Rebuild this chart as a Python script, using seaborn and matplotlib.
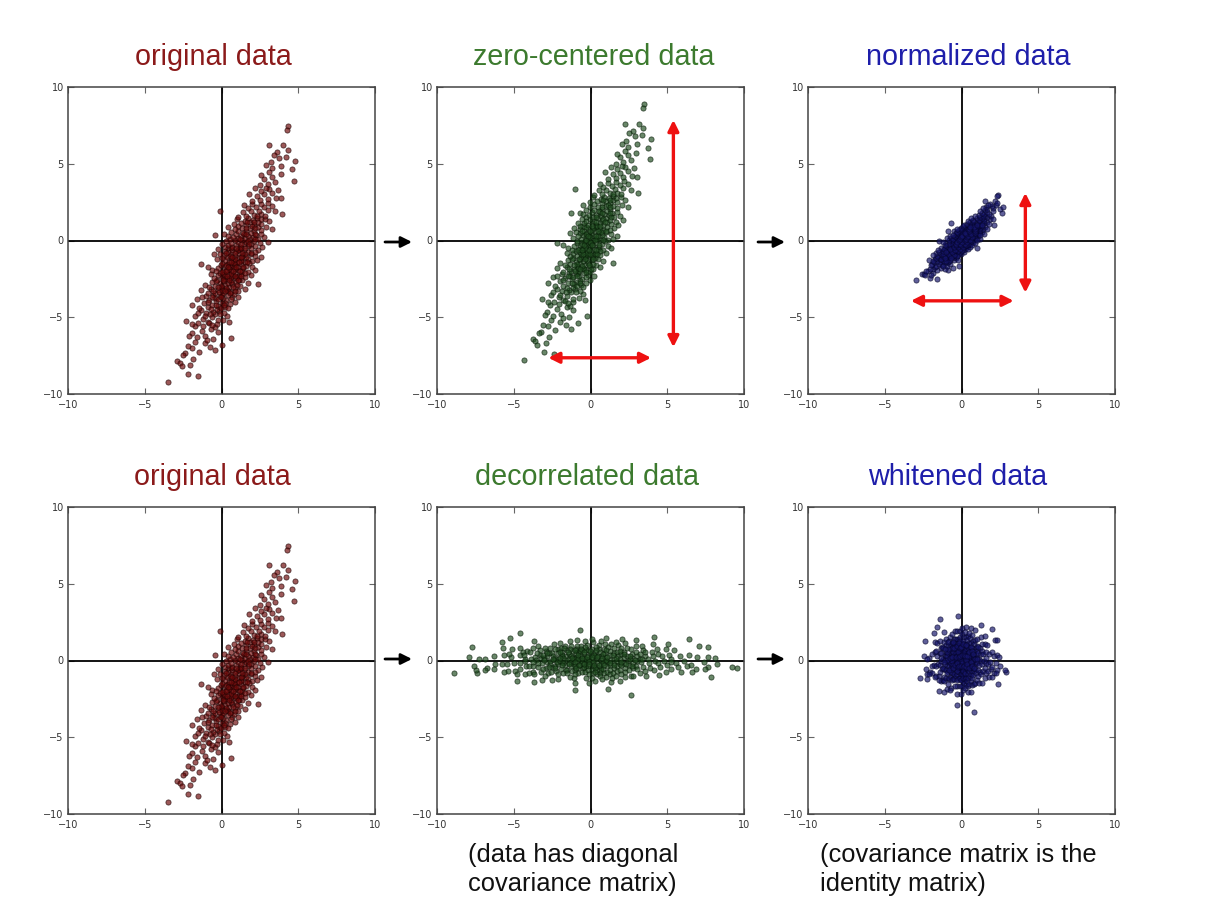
import numpy as np
import pandas as pd
import matplotlib
matplotlib.use("Agg")
import matplotlib.pyplot as plt
import seaborn as sns

# ---------------- data ----------------
# original 2-D point cloud (x, y), estimated from the "original data" panel
original_points = [
    (-3.49, -9.2), (-2.17, -8.7), (-1.52, -8.83),
    (-2.9, -7.86), (-2.73, -7.95), (-1.85, -7.7), (-2.05, -8.1), (-2.6, -8.2),
    (-2.36, -7.36), (-1.9, -7.0), (-0.4, -7.15), (0.04, -6.8), (-1.45, -7.25),
    (-2.2, -6.9), (-1.1, -6.7), (-1.7, -6.6), (-0.75, -6.95), (-2.5, -7.45),
    (0.63, -6.35), (-1.6, -6.3), (-1.05, -6.2), (-0.55, -6.4), (-1.95, -6.05),
    (-1.3, -5.9), (-0.7, -5.75), (-1.75, -5.6), (-0.25, -5.95), (-1.2, -5.55),
    (-0.95, -6.45), (-2.1, -6.25), (-0.45, -5.65),
    (-2.3, -5.24), (-1.5, -5.4), (-0.9, -5.3), (-0.3, -5.45), (-1.2, -5.1),
    (-0.65, -5.0), (0.1, -5.15), (-1.7, -4.95), (-0.4, -4.8), (-1.0, -4.7),
    (0.35, -4.9), (-0.15, -4.6), (-1.35, -4.55), (-0.8, -5.35), (-1.9, -5.45),
    (0.5, -5.3), (-0.55, -4.65), (-1.1, -4.95), (0.15, -4.7), (-0.25, -5.2),
    (-1.55, -4.75),
    (-1.45, -4.4), (-0.9, -4.35), (-0.3, -4.45), (0.25, -4.3), (-0.6, -4.2),
    (0.0, -4.1), (-1.15, -4.05), (0.55, -4.15), (-0.35, -3.95), (0.3, -3.9),
    (-0.8, -3.85), (-1.6, -3.8), (0.1, -3.75), (-0.1, -3.6), (0.7, -3.65),
    (-0.55, -3.55), (-1.0, -3.6), (0.45, -3.52), (-0.2, -4.25), (-0.7, -4.48),
    (0.85, -4.0), (-1.3, -3.7), (0.2, -4.05), (-0.45, -3.75), (-0.05, -4.38),
    (0.6, -3.8), (-0.9, -3.98), (0.05, -3.55), (-0.25, -3.82), (0.4, -4.42),
    (-1.9, -4.2), (1.1, -3.7),
    (-0.9, -3.45), (-0.4, -3.4), (0.1, -3.42), (0.6, -3.35), (1.05, -3.3),
    (-0.2, -3.25), (0.35, -3.2), (-0.7, -3.15), (0.85, -3.1), (0.0, -3.05),
    (0.5, -3.0), (-0.45, -2.95), (1.2, -2.98), (0.2, -2.9), (-1.1, -2.88),
    (0.7, -2.85), (2.36, -2.86), (-0.1, -2.8), (0.4, -2.75), (0.95, -2.7),
    (-0.6, -2.7), (0.15, -2.65), (1.35, -2.6), (0.6, -2.58), (-0.3, -2.55),
    (0.25, -2.52), (0.8, -3.48), (-0.15, -3.38), (0.45, -3.28), (-0.55, -3.3),
    (1.5, -3.15), (0.3, -3.1), (-0.35, -2.62), (1.0, -2.92), (0.05, -3.2),
    (0.65, -2.68), (-0.8, -3.0), (1.7, -2.75), (0.55, -3.45), (-0.05, -2.97),
    (1.15, -2.55), (-1.35, -3.2),
    (-0.5, -2.45), (0.0, -2.4), (0.5, -2.42), (1.0, -2.38), (1.5, -2.35),
    (0.25, -2.3), (0.75, -2.28), (-0.25, -2.25), (1.25, -2.2), (0.4, -2.15),
    (0.9, -2.12), (-0.1, -2.1), (1.7, -2.05), (0.6, -2.0), (0.1, -1.98),
    (1.1, -1.95), (-0.6, -1.92), (0.35, -1.9), (0.85, -1.85), (1.4, -1.82),
    (-0.2, -1.8), (0.55, -1.75), (1.05, -1.7), (0.2, -1.68), (1.6, -1.65),
    (0.7, -1.6), (-0.05, -1.58), (1.25, -1.55), (0.45, -1.52), (-1.32, -1.55),
    (0.95, -2.47), (0.15, -2.18), (1.9, -2.25), (0.65, -2.35), (-0.35, -2.0),
    (1.35, -1.98), (0.8, -1.72), (0.3, -1.62), (2.0, -1.75), (1.15, -2.3),
    (-0.7, -2.2), (0.5, -1.88), (1.5, -2.1), (0.05, -2.05), (0.9, -1.55),
    (2.2, -1.9), (-0.9, -1.7), (0.65, -2.2),
    (0.0, -1.45), (0.5, -1.42), (1.0, -1.4), (1.5, -1.38), (2.0, -1.35),
    (0.25, -1.3), (0.75, -1.28), (1.25, -1.25), (1.75, -1.2), (-0.3, -1.22),
    (0.6, -1.15), (1.1, -1.12), (0.35, -1.08), (1.6, -1.05), (0.9, -1.0),
    (2.2, -0.98), (0.15, -0.95), (1.4, -0.92), (0.65, -0.9), (1.9, -0.88),
    (-0.1, -0.85), (1.15, -0.8), (0.45, -0.78), (1.7, -0.75), (0.95, -0.7),
    (0.2, -0.68), (1.45, -0.65), (2.4, -0.62), (0.7, -0.6), (1.2, -0.55),
    (1.95, -0.52), (0.4, -0.5), (-0.5, -0.9), (2.6, -1.1), (0.8, -1.48),
    (1.3, -1.33), (0.05, -1.15), (1.8, -1.45), (0.55, -0.98), (1.05, -0.62),
    (2.15, -0.72), (-0.2, -0.58), (1.55, -0.85), (0.85, -1.2), (0.3, -0.82),
    (1.35, -1.1), (2.3, -1.3), (0.6, -0.52),
    (-0.4, 0.38), (0.15, 0.4), (0.2, -0.45), (0.7, -0.42), (1.2, -0.4),
    (1.7, -0.38), (2.2, -0.35), (0.45, -0.3), (0.95, -0.28), (1.45, -0.25),
    (1.95, -0.2), (2.5, -0.18), (0.6, -0.15), (1.1, -0.12), (1.6, -0.08),
    (2.1, -0.05), (0.3, -0.02), (0.85, 0.02), (1.35, 0.05), (1.85, 0.08),
    (2.4, 0.1), (0.55, 0.12), (1.05, 0.15), (1.55, 0.18), (2.05, 0.22),
    (2.8, 0.2), (0.75, 0.25), (1.25, 0.28), (1.75, 0.32), (2.25, 0.35),
    (0.95, 0.42), (1.45, 0.45), (1.95, 0.48), (2.6, 0.42), (0.05, -0.25),
    (3.0, -0.1), (1.3, -0.48), (0.4, 0.3), (2.65, -0.4), (1.7, 0.0),
    (0.6, 0.55), (1.1, 0.6), (1.6, 0.62), (2.1, 0.65), (2.6, 0.7),
    (0.85, 0.75), (1.35, 0.8), (1.85, 0.82), (2.35, 0.85), (2.9, 0.9),
    (1.1, 0.95), (1.6, 1.0), (2.1, 1.02), (2.6, 1.08), (0.8, 1.1),
    (1.3, 1.15), (1.85, 1.18), (2.35, 1.22), (3.1, 1.25), (1.55, 1.3),
    (2.05, 1.35), (2.55, 1.38), (1.0, 1.4), (1.75, 1.45), (2.3, 1.48),
    (2.85, 1.42), (0.4, 0.9), (3.3, 0.75), (1.4, 0.52), (2.0, 0.92),
    (-0.13, 1.93), (1.1, 1.55), (1.6, 1.6), (2.1, 1.65), (2.6, 1.7),
    (3.97, 1.7), (1.4, 1.85), (1.9, 1.9), (2.45, 1.95), (3.0, 2.0),
    (1.7, 2.1), (2.25, 2.15), (2.8, 2.2), (3.3, 2.25), (2.0, 2.35),
    (2.55, 2.4), (3.05, 2.45), (1.45, 2.3), (3.5, 1.9),
    (2.0, 2.6), (2.5, 2.65), (3.0, 2.7), (3.55, 2.8), (2.3, 2.9),
    (2.8, 3.0), (3.3, 3.1), (1.8, 3.05), (2.6, 3.25), (3.1, 3.35),
    (3.7, 3.3), (2.2, 3.4), (3.9, 2.75), (2.9, 3.45),
    (2.5, 3.6), (3.0, 3.7), (3.5, 3.8), (4.75, 3.88), (2.8, 4.0),
    (3.3, 4.15), (3.85, 4.3), (4.58, 4.64), (3.1, 4.45), (2.6, 4.25),
    (3.3, 4.7), (3.9, 4.85), (4.8, 5.18), (3.77, 5.37), (3.2, 5.1),
    (4.2, 5.45), (2.9, 4.9),
    (3.12, 6.2), (4.03, 6.2), (3.6, 5.75), (4.3, 5.9), (3.4, 5.6),
    (4.32, 7.49), (4.27, 7.19),
    # extra points in the dense core
    (-0.35, -4.2), (0.15, -4.2), (-0.05, -3.7), (-0.6, -3.7), (0.2, -3.3),
    (0.9, -3.3), (-0.2, -3.0), (0.75, -3.0), (0.1, -2.6), (0.5, -2.6),
    (1.05, -2.6), (0.35, -2.3), (0.85, -2.3), (1.3, -2.3), (0.3, -2.0),
    (0.75, -2.0), (1.2, -2.0), (0.45, -1.7), (0.95, -1.7), (1.4, -1.7),
    (0.6, -1.4), (1.15, -1.4), (1.65, -1.4), (0.7, -1.1), (1.25, -1.1),
    (0.85, -0.8), (1.35, -0.8), (1.9, -0.8), (0.95, -0.5), (1.5, -0.5),
    (1.25, -0.2), (1.8, -0.2), (1.2, 0.1), (2.2, 0.1), (1.6, 0.4),
    (2.15, 0.4), (1.6, 0.8), (2.15, 0.8), (2.1, 1.2), (1.65, 1.2),
    (2.3, 1.6), (2.85, 1.6), (-0.6, -5.5), (-0.75, -4.8), (-0.1, -4.8),
]

titles_top = ["original data", "zero-centered data", "normalized data"]
titles_bottom = ["original data", "decorrelated data", "whitened data"]
captions = {
    4: ["(data has diagonal", "covariance matrix)"],
    5: ["(covariance matrix is the", "identity matrix)"],
}
tick_values = [-10, -5, 0, 5, 10]
tick_labels = ["\u221210", "\u22125", "0", "5", "10"]

# red spread arrows: (x0, y0, x1, y1) in data units
spread_arrows = {
    1: [(5.4, -6.95, 5.4, 7.85), (-2.75, -7.64, 3.95, -7.64)],
    2: [(4.16, -3.4, 4.16, 3.1), (-3.3, -3.93, 3.4, -3.93)],
}

# ---------------- derived clouds (the preprocessing pipeline) ----------------
X = np.array(original_points, dtype=float)
Xc = X - X.mean(axis=0)
Xn = Xc / Xc.std(axis=0)
cov = Xc.T @ Xc / Xc.shape[0]
U, S, _ = np.linalg.svd(cov)
U = U * np.sign(U.sum(axis=0))
Xrot = Xc @ U
Xwhite = Xrot / np.sqrt(S + 1e-5)

clouds = [X, Xc, Xn, X, Xrot, Xwhite]

RED = "#8b1a1a"
GREEN = "#3c7a2e"
BLUE = "#1e1eaa"
title_colors = [RED, GREEN, BLUE, RED, GREEN, BLUE]
dot_face = ["#6e0a0a", "#224f22", "#15156a", "#6e0a0a", "#224f22", "#15156a"]
dot_edge = ["#1e0202", "#061a06", "#05052a", "#1e0202", "#061a06", "#05052a"]

# ---------------- figure ----------------
sns.set_theme(style="white")
plt.rcParams["font.family"] = ["Liberation Sans", "DejaVu Sans"]

W, H = 1214, 900
fig = plt.figure(figsize=(W / 100, H / 100), dpi=100)
fig.patch.set_facecolor("white")

col_left = [68, 437, 808]
row_top = [87, 507]
ax_w, ax_h = 307, 307

axes = []
for r in range(2):
    for c in range(3):
        rect = [col_left[c] / W, 1 - (row_top[r] + ax_h) / H, ax_w / W, ax_h / H]
        axes.append(fig.add_axes(rect))

for i, ax in enumerate(axes):
    df = pd.DataFrame({"x": clouds[i][:, 0], "y": clouds[i][:, 1]})
    ax.axhline(0, color="black", lw=1.3, zorder=1)
    ax.axvline(0, color="black", lw=1.3, zorder=1)
    sns.scatterplot(data=df, x="x", y="y", ax=ax, s=14, color=dot_face[i],
                    edgecolor=dot_edge[i], linewidth=0.6, alpha=0.68, zorder=3,
                    legend=False)
    ax.set_xlim(-10, 10)
    ax.set_ylim(-10, 10)
    ax.set_xticks(tick_values)
    ax.set_yticks(tick_values)
    ax.set_xticklabels(tick_labels)
    ax.set_yticklabels(tick_labels)
    ax.set_xlabel("")
    ax.set_ylabel("")
    ax.tick_params(direction="in", length=4, width=0.8, top=True, right=True,
                   bottom=True, left=True, labelsize=7, labelcolor="#333333",
                   color="#666666")
    ax.tick_params(axis="x", pad=4)
    ax.tick_params(axis="y", pad=3)
    for t in ax.get_xticklabels() + ax.get_yticklabels():
        t.set_family("DejaVu Sans")
    for sp in ax.spines.values():
        sp.set_color("#444444")
        sp.set_linewidth(1.1)
    ax.set_facecolor("white")
    for (x0, y0, x1, y1) in spread_arrows.get(i, []):
        ax.annotate("", xy=(x1, y1), xytext=(x0, y0),
                    arrowprops=dict(arrowstyle="<|-|>", color="#ee1111",
                                    lw=2.4, mutation_scale=16,
                                    shrinkA=0, shrinkB=0), zorder=5)

# titles
title_x_top = [213, 594, 968]
title_x_bottom = [212, 587, 958]
for c in range(3):
    fig.text(title_x_top[c] / W, 1 - 57 / H, titles_top[c], ha="center",
             va="center", fontsize=20.7, color=title_colors[c])
    fig.text(title_x_bottom[c] / W, 1 - 477 / H, titles_bottom[c], ha="center",
             va="center", fontsize=20.7, color=title_colors[3 + c])

# black arrows between panels
for yy in [242, 659]:
    for (xa, xb) in [(385, 412), (758, 785)]:
        fig.add_artist(matplotlib.patches.FancyArrowPatch(
            (xa / W, 1 - yy / H), (xb / W, 1 - yy / H),
            transform=fig.transFigure, arrowstyle="-|>", mutation_scale=16,
            color="black", lw=2.0, shrinkA=0, shrinkB=0))

# captions
cap_x = {4: 468, 5: 820}
for k, lines in captions.items():
    for j, line in enumerate(lines):
        fig.text(cap_x[k] / W, 1 - (855 + 29 * j) / H, line, ha="left",
                 va="center", fontsize=18.4, color="#111111")

fig.savefig("out.png", dpi=100, facecolor="white")
